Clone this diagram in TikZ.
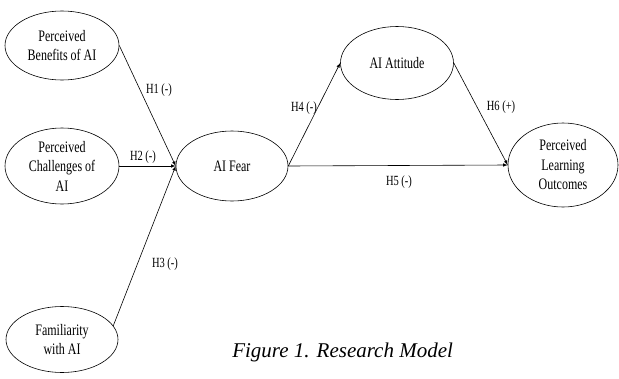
\documentclass[tikz,border=0pt]{standalone}
\usepackage{fontspec}
\setmainfont[FakeStretch=0.75]{Liberation Serif}
\newfontfamily\capfont{Liberation Serif}
\usetikzlibrary{shapes.geometric}

\begin{document}
\begin{tikzpicture}[x=1pt,y=-1pt,line width=0.6pt,
  construct/.style={draw,ellipse,inner sep=0pt,align=center,font=\fontsize{16}{19.5}\selectfont},
  hyp/.style={font=\fontsize{14}{16}\selectfont,inner sep=0pt}]
  \useasboundingbox (0,0) rectangle (619,378);
  \node[construct,minimum width=114pt,minimum height=69pt] (ben) at (62,45.5) {Perceived\\Benefits of AI};
  \node[construct,minimum width=114pt,minimum height=76pt] (cha) at (62,166) {Perceived\\Challenges of\\AI};
  \node[construct,minimum width=112pt,minimum height=66pt] (fam) at (62,339.5) {Familiarity\\with AI};
  \node[construct,minimum width=112pt,minimum height=70pt] (fear) at (232,166) {AI Fear};
  \node[construct,minimum width=113pt,minimum height=73pt] (att) at (397,63) {AI Attitude};
  \node[construct,minimum width=110pt,minimum height=84pt] (plo) at (563,165) {Perceived\\Learning\\Outcomes};
  \draw[->,>=latex] (ben.east) -- (fear.west);
  \draw[->,>=latex] (cha.east) -- (fear.west);
  \draw[->,>=latex] (fam.15) -- (fear.west);
  \draw[->,>=latex] (fear.east) -- (att.west);
  \draw[->,>=latex] (fear.east) -- (plo.west);
  \draw[->,>=latex] (att.east) -- (plo.west);
  \node[hyp] (h1) at (159,90) {H1 (-)};
  \node[hyp] (h2) at (143,157) {H2 (-)};
  \node[hyp] (h3) at (165,264) {H3 (-)};
  \node[hyp] (h4) at (304,108) {H4 (-)};
  \node[hyp] (h5) at (399,182) {H5 (-)};
  \node[hyp] (h6) at (501,107) {H6 (+)};
  \node[anchor=base west,inner sep=0pt,font=\capfont\itshape\fontsize{21}{24}\selectfont] (cap) at (232,357) {Figure 1. Research Model};
\end{tikzpicture}
\end{document}
